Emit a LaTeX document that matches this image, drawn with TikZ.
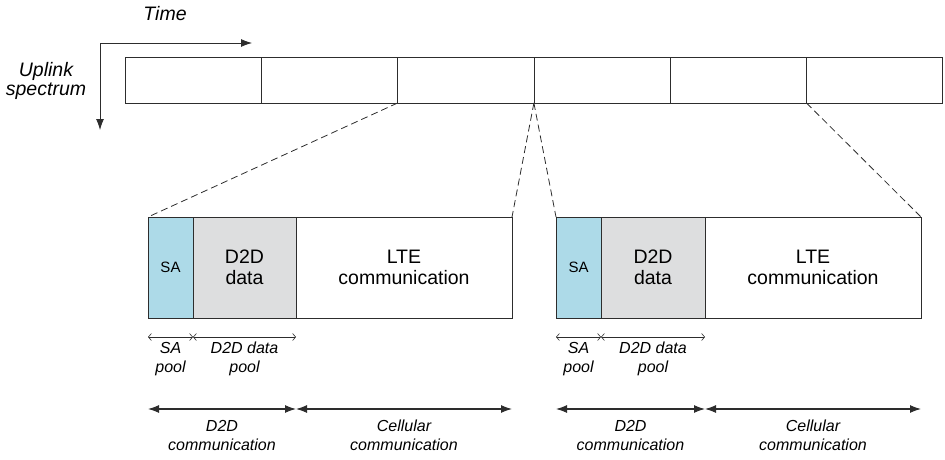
\documentclass[tikz,border=0pt]{standalone}
\usepackage{fontspec}
\setmainfont{Liberation Sans}
\usetikzlibrary{arrows.meta,calc}

\definecolor{sablue}{RGB}{173,218,232}
\definecolor{datagray}{RGB}{221,222,223}
\definecolor{linegray}{RGB}{45,45,45}

\tikzset{
  cell/.style={draw=linegray, line width=0.8pt, minimum width=136.3pt, minimum height=46pt, inner sep=0pt, outer sep=0pt, anchor=north west},
  slot/.style={draw=linegray, line width=0.8pt, minimum height=101pt, inner sep=0pt, outer sep=0pt, anchor=north west, align=center, font=\fontsize{19.5}{21}\selectfont},
  zoomline/.style={linegray, line width=0.8pt, dash pattern=on 7pt off 4pt},
  poolarrow/.style={{Straight Barb[length=3pt,width=7pt]}-{Straight Barb[length=3pt,width=7pt]}, linegray, line width=0.6pt},
  commarrow/.style={{Latex[length=11pt,width=8pt]}-{Latex[length=11pt,width=8pt]}, linegray, line width=1.1pt},
  lbl/.style={font=\itshape\fontsize{16}{19}\selectfont, align=center, anchor=north, inner sep=0pt},
  axislbl/.style={font=\itshape\fontsize{19.5}{19}\selectfont, align=center}
}

\begin{document}
\begin{tikzpicture}[x=1pt, y=-1pt]
\useasboundingbox (0,0) rectangle (945,460);

% Axes
\coordinate (origin) at (100,43);
\coordinate (tend) at (252,43);
\coordinate (fend) at (100,130);
\draw[{Latex[length=11pt,width=8pt]}-{Latex[length=11pt,width=8pt]}, linegray, line width=0.8pt] (tend) -- (origin) -- (fend);
\node[axislbl] (time) at (165,14) {Time};
\node[axislbl] (uplink) at (46,81) {Uplink\\spectrum};

% Uplink subframes
\foreach \i in {1,...,6}
  \node[cell] (c\i) at ({125+(\i-1)*136.3},57) {};

% Zoomed subframe (left)
\node[slot, fill=sablue, minimum width=45pt, font=\fontsize{15}{17}\selectfont] (sa1) at (148,217) {SA};
\node[slot, fill=datagray, minimum width=103pt] (dd1) at (sa1.north east) {D2D\\data};
\node[slot, minimum width=216pt] (lte1) at (dd1.north east) {LTE\\communication};

% Zoomed subframe (right)
\node[slot, fill=sablue, minimum width=45pt, font=\fontsize{15}{17}\selectfont] (sa2) at (556,217) {SA};
\node[slot, fill=datagray, minimum width=104pt] (dd2) at (sa2.north east) {D2D\\data};
\node[slot, minimum width=216pt] (lte2) at (dd2.north east) {LTE\\communication};

% Zoom lines
\draw[zoomline] (c3.south west) -- (sa1.north west);
\draw[zoomline] (c4.south west) -- (lte1.north east);
\draw[zoomline] (c4.south west) -- (sa2.north west);
\draw[zoomline] (c6.south west) -- (lte2.north east);

% Pools and communication spans
\foreach \k in {1,2} {
  \draw[poolarrow] ([yshift=-19pt]sa\k.south west) -- ([yshift=-19pt]sa\k.south east);
  \draw[poolarrow] ([yshift=-19pt]dd\k.south west) -- ([yshift=-19pt]dd\k.south east);
  \node[lbl] (sapool\k) at ([yshift=-24pt]sa\k.south) {SA\\pool};
  \node[lbl] (ddpool\k) at ([yshift=-24pt]dd\k.south) {D2D data\\pool};
  \draw[commarrow] ([yshift=-91pt]sa\k.south west) -- ([yshift=-91pt]dd\k.south east);
  \draw[commarrow] ([yshift=-91pt]lte\k.south west) -- ([yshift=-91pt]lte\k.south east);
  \coordinate (d2dmid\k) at ($([yshift=-102pt]sa\k.south west)!0.5!([yshift=-102pt]dd\k.south east)$);
  \node[lbl] (d2dcomm\k) at (d2dmid\k) {D2D\\communication};
  \node[lbl] (cellcomm\k) at ([yshift=-102pt]lte\k.south) {Cellular\\communication};
}

\end{tikzpicture}
\end{document}
